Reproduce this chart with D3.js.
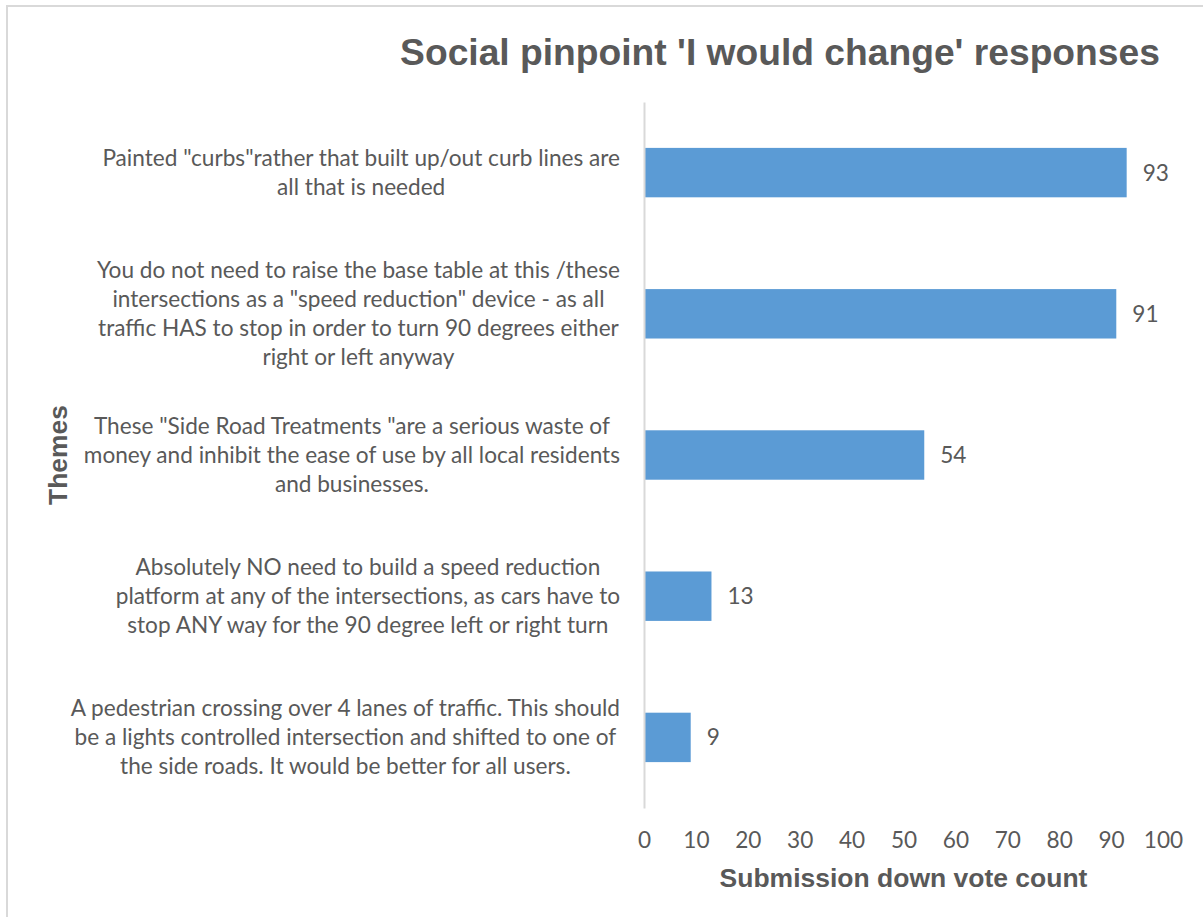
<!DOCTYPE html>
<html>
<head>
<meta charset="utf-8">
<script src="https://cdn.jsdelivr.net/npm/d3@7"></script>
<style>
  html, body { margin: 0; padding: 0; background: #fff; }
  svg { display: block; }
</style>
</head>
<body>
<svg id="chart" width="1203" height="917"></svg>
<script>
// Category labels (one entry per wrapped line), top to bottom
const themes = [
  ["Painted \"curbs\"rather that built up/out curb lines are",
   "all that is needed"],
  ["You do not need to raise the base table at this /these",
   "intersections as a \"speed reduction\" device - as all",
   "traffic HAS to stop in order to turn 90 degrees either",
   "right or left anyway"],
  ["These \"Side Road Treatments \"are a serious waste of",
   "money and inhibit the ease of use by all local residents",
   "and businesses."],
  ["Absolutely NO need to build a speed reduction",
   "platform at any of the intersections, as cars have to",
   "stop ANY way for the 90 degree left or right turn"],
  ["A pedestrian crossing over 4 lanes of traffic. This should",
   "be a lights controlled intersection and shifted to one of",
   "the side roads. It would be better for all users."]
];
const downVotes = [93, 91, 54, 13, 9];
const xTicks = [0, 10, 20, 30, 40, 50, 60, 70, 80, 90, 100];
const chartTitle = "Social pinpoint 'I would change' responses";
const xAxisTitle = "Submission down vote count";
const yAxisTitle = "Themes";

const W = 1203, H = 917;
const plot = { left: 644, right: 1163, top: 102, bottom: 808 };
const textColor = "#595959";
const barColor = "#5B9BD5";
const lineColor = "#d9d9d9";
const bodyFont = "Lato, 'Open Sans', sans-serif";
const headFont = "'Liberation Sans', Arial, sans-serif";

const svg = d3.select("#chart");

// Size a string so that it spans a given width
function fitSize(text, family, weight, target) {
  const t = svg.append("text")
    .attr("font-family", family)
    .attr("font-weight", weight)
    .attr("font-size", 100)
    .text(text);
  const w = t.node().getComputedTextLength();
  t.remove();
  return 100 * target / w;
}
function measure(text, family, weight, size) {
  const t = svg.append("text")
    .attr("font-family", family)
    .attr("font-weight", weight)
    .attr("font-size", size)
    .text(text);
  const w = t.node().getComputedTextLength();
  t.remove();
  return w;
}

// Chart frame
svg.append("rect")
  .attr("x", 7).attr("y", 6)
  .attr("width", W + 20).attr("height", H + 20)
  .attr("fill", "none")
  .attr("stroke", lineColor)
  .attr("stroke-width", 2);

const x = d3.scaleLinear().domain([0, 100]).range([plot.left, plot.right]);
const y = d3.scaleBand()
  .domain(d3.range(themes.length))
  .range([plot.top, plot.bottom])
  .paddingInner(0.65)
  .paddingOuter(0.325);

// Bars
svg.append("g").selectAll("rect")
  .data(downVotes)
  .join("rect")
  .attr("x", x(0) + 1)
  .attr("y", (d, i) => y(i))
  .attr("width", d => x(d) - x(0) - 1)
  .attr("height", y.bandwidth())
  .attr("fill", barColor);

// Vertical category axis line
const yAxis = svg.append("g")
  .attr("transform", `translate(${plot.left},0)`)
  .call(d3.axisLeft(y).tickSize(0).tickFormat(""));
yAxis.select(".domain").attr("stroke", lineColor).attr("stroke-width", 2);

const labelSize = fitSize(themes[0][0], bodyFont, 400, 518);

// Horizontal value axis (labels only)
const xAxis = svg.append("g")
  .attr("transform", `translate(0,${plot.bottom})`)
  .call(d3.axisBottom(x).tickValues(xTicks).tickSize(0).tickPadding(24));
xAxis.select(".domain").remove();
xAxis.selectAll("text")
  .attr("font-family", bodyFont)
  .attr("font-size", labelSize)
  .attr("fill", textColor);

// Category labels: block right-aligned to the axis, lines centred within block
const lineGap = 29;
const labelRight = plot.left - 24;
const labels = svg.append("g")
  .attr("font-family", bodyFont)
  .attr("font-size", labelSize)
  .attr("fill", textColor)
  .attr("text-anchor", "middle");
themes.forEach((lines, i) => {
  const maxW = d3.max(lines, l => measure(l, bodyFont, 400, labelSize));
  const cx = labelRight - maxW / 2;
  const cy = y(i) + y.bandwidth() / 2;
  labels.append("text")
    .selectAll("tspan")
    .data(lines)
    .join("tspan")
    .attr("x", cx)
    .attr("y", (l, j) => cy + (j - (lines.length - 1) / 2) * lineGap)
    .attr("dy", "0.35em")
    .text(l => l);
});

// Value labels
svg.append("g")
  .attr("font-family", bodyFont)
  .attr("font-size", labelSize)
  .attr("fill", textColor)
  .selectAll("text")
  .data(downVotes)
  .join("text")
  .attr("x", d => x(d) + 16)
  .attr("y", (d, i) => y(i) + y.bandwidth() / 2)
  .attr("dy", "0.35em")
  .text(d => d);

// Title
svg.append("text")
  .attr("x", 780).attr("y", 65)
  .attr("text-anchor", "middle")
  .attr("font-family", headFont)
  .attr("font-weight", 700)
  .attr("font-size", fitSize(chartTitle, headFont, 700, 760))
  .attr("fill", textColor)
  .text(chartTitle);

// Axis titles
svg.append("text")
  .attr("x", (plot.left + plot.right) / 2).attr("y", 887)
  .attr("text-anchor", "middle")
  .attr("font-family", headFont)
  .attr("font-weight", 700)
  .attr("font-size", fitSize(xAxisTitle, headFont, 700, 368))
  .attr("fill", textColor)
  .text(xAxisTitle);

svg.append("text")
  .attr("transform", `translate(67,${(plot.top + plot.bottom) / 2}) rotate(-90)`)
  .attr("text-anchor", "middle")
  .attr("font-family", headFont)
  .attr("font-weight", 700)
  .attr("font-size", fitSize(yAxisTitle, headFont, 700, 100))
  .attr("fill", textColor)
  .text(yAxisTitle);
</script>
</body>
</html>
